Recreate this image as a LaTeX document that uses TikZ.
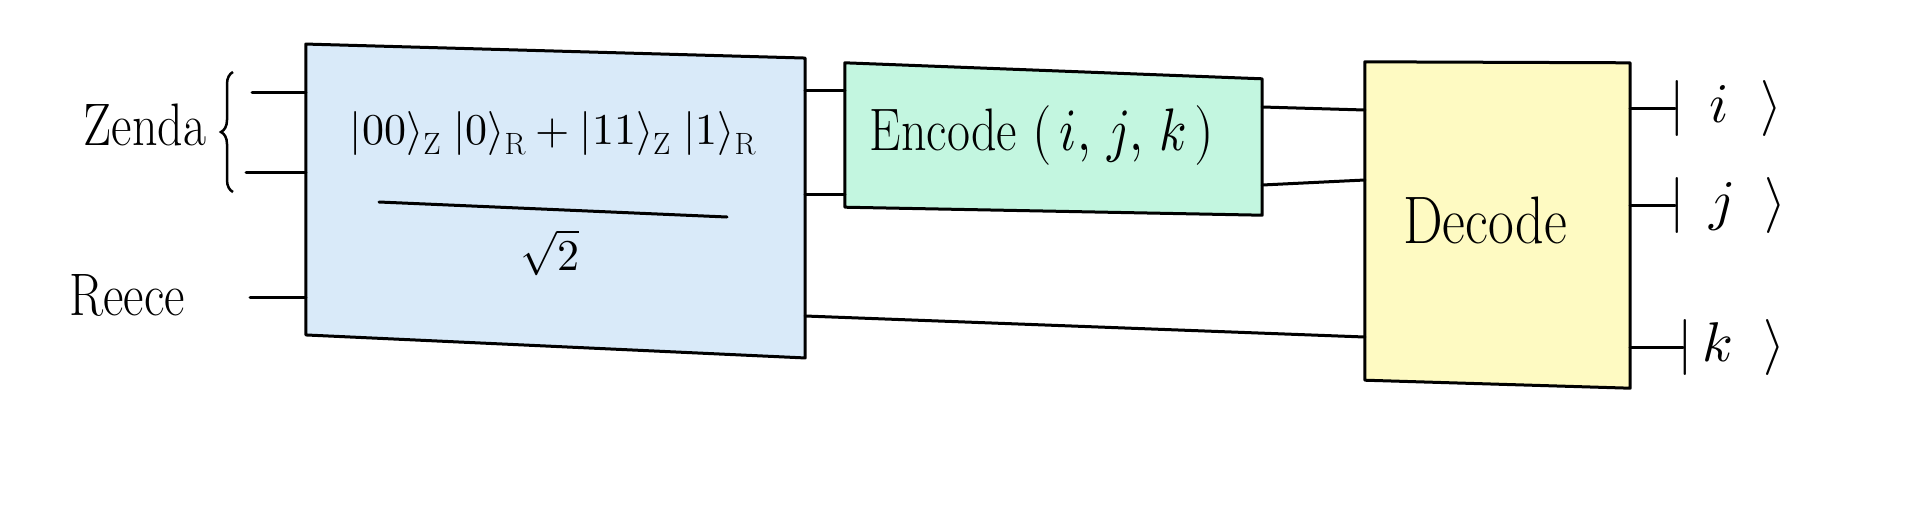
\documentclass[tikz,border=0pt]{standalone}
\usepackage{unicode-math}
\usetikzlibrary{decorations.pathreplacing,backgrounds}
\definecolor{bluefill}{RGB}{217,234,249}
\definecolor{greenfill}{RGB}{195,246,224}
\definecolor{yellowfill}{RGB}{254,250,194}
\newcommand{\tallbox}[1]{\scalebox{1}[1.2]{#1}}
\begin{document}
\begin{tikzpicture}[x=1pt,y=-1pt,
  wire/.style={line width=3pt, line cap=round},
  boxline/.style={line width=3pt, line join=round, line cap=round},
  block/.style={draw=none, inner sep=0pt},
  lbl/.style={inner sep=0pt, font=\fontsize{50}{60}\selectfont},
  boxtext/.style={inner sep=0pt, font=\fontsize{50}{60}\selectfont},
  bigtext/.style={inner sep=0pt, font=\fontsize{56}{66}\selectfont},
  formula/.style={inner sep=0pt, font=\fontsize{44}{52}\selectfont},
  ket/.style={inner sep=0pt, anchor=west, font=\fontsize{56}{64}\selectfont}]
\useasboundingbox (0,0) rectangle (1920,515);

% blocks (geometry holders)
\node[block, minimum width=499pt, minimum height=295pt] (bell) at (555.5,198.75) {};
\node[block, minimum width=417pt, minimum height=140pt] (enc) at (1053.5,141) {};
\node[block, minimum width=265pt, minimum height=322pt] (dec) at (1497.5,223) {};

% texts
\node[lbl, anchor=base] (zenda) at (145,145) {\tallbox{Zenda}};
\node[lbl, anchor=base] (reece) at (127,315) {\tallbox{Reece}};
\node[formula, anchor=base] (num) at (553,144) {$|00\rangle_{\mathrm{Z}}\;|0\rangle_{\mathrm{R}} + |11\rangle_{\mathrm{Z}}\;|1\rangle_{\mathrm{R}}$};
\node[formula, anchor=base] (den) at (550,270) {$\sqrt{2}$};
\node[boxtext, anchor=base] (enctext) at (1042,150) {\tallbox{Encode $(\,i,\,j,\,k\,)$}};
\node[bigtext, anchor=base] (dectext) at (1485,243) {\tallbox{Decode}};

\node[ket] (ki) at (1669,108) {$|\;\,i\;\;\rangle$};
\node[ket] (kj) at (1669,205) {$|\;\,j\;\;\rangle$};
\node[ket] (kk) at (1677,347) {$|\,k\;\;\rangle$};

% boxes
\begin{scope}[on background layer]
\filldraw[boxline, fill=bluefill] ([yshift=7pt]bell.north west) -- ([yshift=-7pt]bell.north east)
  -- ([yshift=-11.5pt]bell.south east) -- ([yshift=11.5pt]bell.south west) -- cycle;
\filldraw[boxline, fill=greenfill] ([yshift=8pt]enc.north west) -- ([yshift=-8pt]enc.north east)
  -- ([yshift=-4pt]enc.south east) -- ([yshift=4pt]enc.south west) -- cycle;
\filldraw[boxline, fill=yellowfill] (dec.north west) -- ([yshift=-1pt]dec.north east)
  -- ([yshift=-4pt]dec.south east) -- ([yshift=4pt]dec.south west) -- cycle;
\end{scope}

% fraction bar
\draw[wire] (379,202) -- (727,217);

% brace
\draw[line width=2.5pt, decorate, decoration={brace, amplitude=12pt}] (233,192) -- (233,72);

% input wires
\coordinate (z1) at (252,92);
\coordinate (z2) at (246,172);
\coordinate (r1) at (250,297);
\draw[wire] (z1) -- (bell.west |- z1);
\draw[wire] (z2) -- (bell.west |- z2);
\draw[wire] (r1) -- (bell.west |- r1);

% bell -> encode
\draw[wire] (bell.east |- 0,90) -- (enc.west |- 0,90);
\draw[wire] (bell.east |- 0,194) -- (enc.west |- 0,194);

% encode -> decode
\draw[wire] (enc.east |- 0,107) -- (dec.west |- 0,110);
\draw[wire] (enc.east |- 0,185) -- (dec.west |- 0,180);

% bell -> decode
\draw[wire] (bell.east |- 0,316) -- (dec.west |- 0,337);

% outputs
\draw[wire] (dec.east |- ki.west) -- ([xshift=6pt]ki.west);
\draw[wire] (dec.east |- kj.west) -- ([xshift=6pt]kj.west);
\draw[wire] (dec.east |- kk.west) -- ([xshift=6pt]kk.west);
\end{tikzpicture}
\end{document}
